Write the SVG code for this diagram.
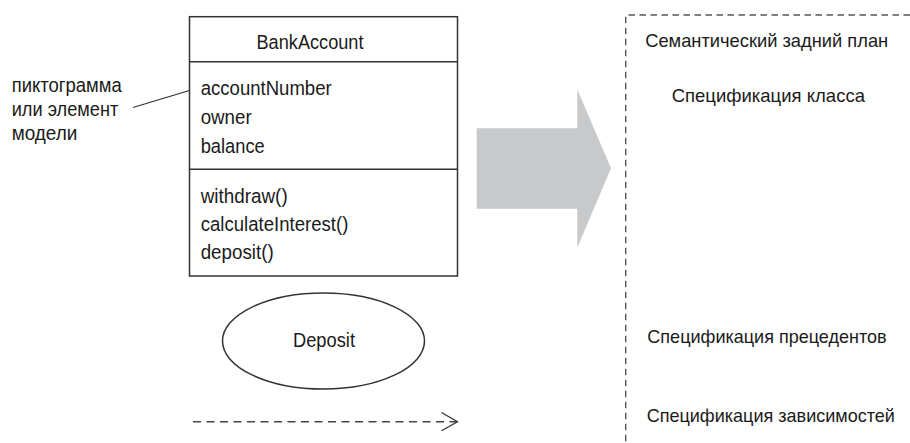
<svg xmlns="http://www.w3.org/2000/svg" width="910" height="443" viewBox="0 0 910 443">
  <style>
    text { font-family: "Liberation Sans", Arial, sans-serif; fill: #1a1a1a; font-size: 20.5px; }
    .c { text-anchor: middle; }
    .r { font-size: 19px; }
    .box { fill: #fff; stroke: #333; stroke-width: 1.5; }
    .div { stroke: #333; stroke-width: 1.5; }
    .thin { stroke: #333; stroke-width: 1.3; fill: none; }
    .dash { stroke: #444; stroke-width: 1.4; fill: none; stroke-dasharray: 8 5.5; }
    .frame { stroke: #555; stroke-width: 1.4; fill: none; stroke-dasharray: 6.5 4.5; }
  </style>
  <rect width="910" height="443" fill="#fff"/>

  <g id="connectors">
    <line class="thin" x1="133" y1="107.5" x2="196" y2="88.5"/>
    <path class="dash" d="M193,421.7 H456"/>
    <path class="thin" d="M441.5,412.5 L457.5,421.7 L441.5,430.8"/>
    <polygon fill="#c8c9cb" points="476.7,128.3 577.3,128.3 577.3,89.5 611,168.3 577.3,247.5 577.3,208.7 476.7,208.7"/>
  </g>

  <g id="note-label">
    <text x="11.7" y="91.7" textLength="110" lengthAdjust="spacingAndGlyphs">пиктограмма</text>
    <text x="11.7" y="115.5" textLength="106.7" lengthAdjust="spacingAndGlyphs">или элемент</text>
    <text x="11.7" y="139.5" textLength="65.7" lengthAdjust="spacingAndGlyphs">модели</text>
  </g>

  <g id="bank-account">
    <rect class="box" x="189.5" y="16.7" width="268" height="259.3"/>
    <line class="div" x1="189.5" y1="61.7" x2="457.5" y2="61.7"/>
    <line class="div" x1="189.5" y1="169.3" x2="457.5" y2="169.3"/>
    <text class="c" x="310" y="49.3" textLength="107" lengthAdjust="spacingAndGlyphs">BankAccount</text>
    <text x="200.7" y="95" textLength="131" lengthAdjust="spacingAndGlyphs">accountNumber</text>
    <text x="200.7" y="124.3" textLength="51" lengthAdjust="spacingAndGlyphs">owner</text>
    <text x="200.7" y="152.7" textLength="64" lengthAdjust="spacingAndGlyphs">balance</text>
    <text x="200.7" y="202.7" textLength="87" lengthAdjust="spacingAndGlyphs">withdraw()</text>
    <text x="200.7" y="230.7" textLength="147.7" lengthAdjust="spacingAndGlyphs">calculateInterest()</text>
    <text x="200.7" y="259.3" textLength="73" lengthAdjust="spacingAndGlyphs">deposit()</text>
  </g>

  <g id="deposit">
    <ellipse class="box" cx="323.5" cy="341" rx="101" ry="48"/>
    <text class="c" x="324" y="346.7" textLength="62" lengthAdjust="spacingAndGlyphs">Deposit</text>
  </g>

  <g id="semantic-backplane">
    <path class="frame" d="M910,15 H625.7 V443"/>
    <text class="c r" x="766.7" y="46.7" textLength="243" lengthAdjust="spacingAndGlyphs">Семантический задний план</text>
    <text class="c r" x="768.3" y="101.7" textLength="193.3" lengthAdjust="spacingAndGlyphs">Спецификация класса</text>
    <text class="c r" x="767" y="343.3" textLength="239.3" lengthAdjust="spacingAndGlyphs">Спецификация прецедентов</text>
    <text class="c r" x="770.8" y="421.7" textLength="248.3" lengthAdjust="spacingAndGlyphs">Спецификация зависимостей</text>
  </g>
</svg>
